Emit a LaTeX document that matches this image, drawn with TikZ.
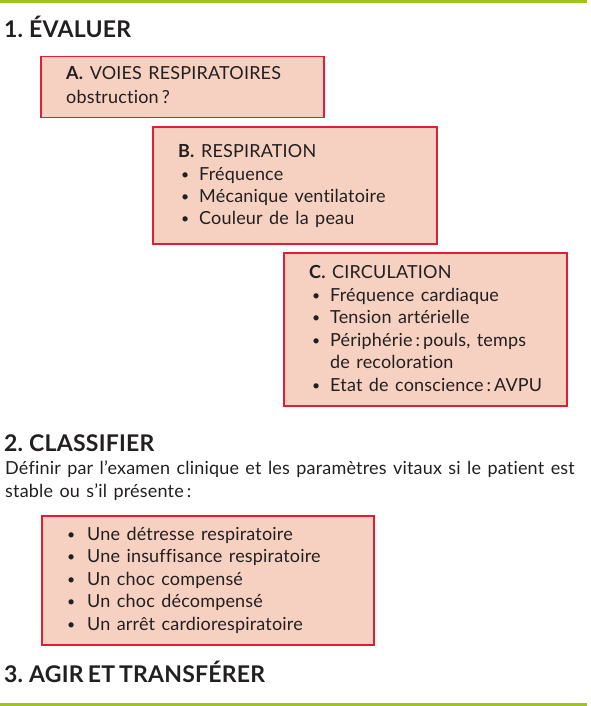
\documentclass[tikz,border=0pt]{standalone}
\usepackage{fontspec}
\setmainfont{Lato}[RawFeature={-liga;-dlig}, WordSpace={1.35}, LetterSpace=1]
\newfontfamily\headfont{Lato}[RawFeature={-liga;-dlig}, WordSpace={0.7}, LetterSpace=1]
\definecolor{boxfill}{RGB}{246,208,193}
\definecolor{boxline}{RGB}{226,30,52}
\definecolor{barcol}{RGB}{160,196,30}
\definecolor{txtcol}{RGB}{35,31,32}
\tikzset{
  box/.style={draw=boxline, fill=boxfill, line width=1.5pt, anchor=north west, inner sep=0pt},
  txt/.style={anchor=base west, inner sep=0pt, text=txtcol, font=\fontsize{18}{20}\selectfont},
  head/.style={anchor=base west, inner sep=0pt, text=txtcol, font=\headfont\fontsize{23}{26}\selectfont\bfseries},
  bul/.style={anchor=base west, inner sep=0pt, text=txtcol, font=\fontsize{14}{16}\selectfont},
  bar/.style={draw=barcol, line width=3pt}
}
\begin{document}
\begin{tikzpicture}[x=1pt,y=-1pt]
\useasboundingbox (0,0) rectangle (591,706);
% green bars
\coordinate (t1) at (0,1.5); \coordinate (t2) at (587,1.5);
\coordinate (b1) at (0,704.5); \coordinate (b2) at (587,704.5);
\draw[bar] (t1) -- (t2);
\draw[bar] (b1) -- (b2);
% headings
\node[head] (h1) at (4,38) {1. ÉVALUER};
\node[head] (h2) at (4,451) {2. CLASSIFIER};
\node[head] (h3) at (4,682) {3. AGIR ET TRANSFÉRER};
% boxes
\node[box, minimum width=283pt, minimum height=61pt] (A) at (40,56) {};
\node[box, minimum width=284pt, minimum height=117pt] (B) at (152,126) {};
\node[box, minimum width=283pt, minimum height=153pt] (C) at (283,252) {};
\node[box, minimum width=332pt, minimum height=129pt] (D) at (41,515) {};
% box A
\node[txt] (a1) at (66,80) {\textbf{A.} VOIES RESPIRATOIRES};
\node[txt] (a2) at (66,103) {obstruction\,?};
% box B
\node[txt] (b0) at (178,157) {\textbf{B.} RESPIRATION};
\node[bul] (bb1) at (181,179) {•}; \node[txt] (bt1) at (199,180) {Fréquence};
\node[bul] (bb2) at (181,201) {•}; \node[txt] (bt2) at (199,202) {Mécanique ventilatoire};
\node[bul] (bb3) at (181,223) {•}; \node[txt] (bt3) at (199,224) {Couleur de la peau};
% box C
\node[txt] (c0) at (309,278) {\textbf{C.} CIRCULATION};
\node[bul] (cb1) at (312,300) {•}; \node[txt] (ct1) at (330,301) {Fréquence cardiaque};
\node[bul] (cb2) at (312,322) {•}; \node[txt] (ct2) at (330,323) {Tension artérielle};
\node[bul] (cb3) at (312,345) {•}; \node[txt] (ct3) at (330,346) {Périphérie\,:\,pouls, temps};
\node[txt] (ct3b) at (330,368) {de recoloration};
\node[bul] (cb4) at (312,390) {•}; \node[txt] (ct4) at (330,391) {Etat de conscience\,:\,AVPU};
% body text
\node[txt] (p1) at (5,474) {Définir par l’examen clinique et les paramètres vitaux si le patient est};
\node[txt] (p2) at (5,497) {stable ou s’il présente\,:};
% box D
\node[bul] (db1) at (67,539) {•}; \node[txt] (dt1) at (87,540) {Une détresse respiratoire};
\node[bul] (db2) at (67,561) {•}; \node[txt] (dt2) at (87,562) {Une insuffisance respiratoire};
\node[bul] (db3) at (67,584) {•}; \node[txt] (dt3) at (87,585) {Un choc compensé};
\node[bul] (db4) at (67,606) {•}; \node[txt] (dt4) at (87,607) {Un choc décompensé};
\node[bul] (db5) at (67,629) {•}; \node[txt] (dt5) at (87,630) {Un arrêt cardiorespiratoire};
\end{tikzpicture}
\end{document}
